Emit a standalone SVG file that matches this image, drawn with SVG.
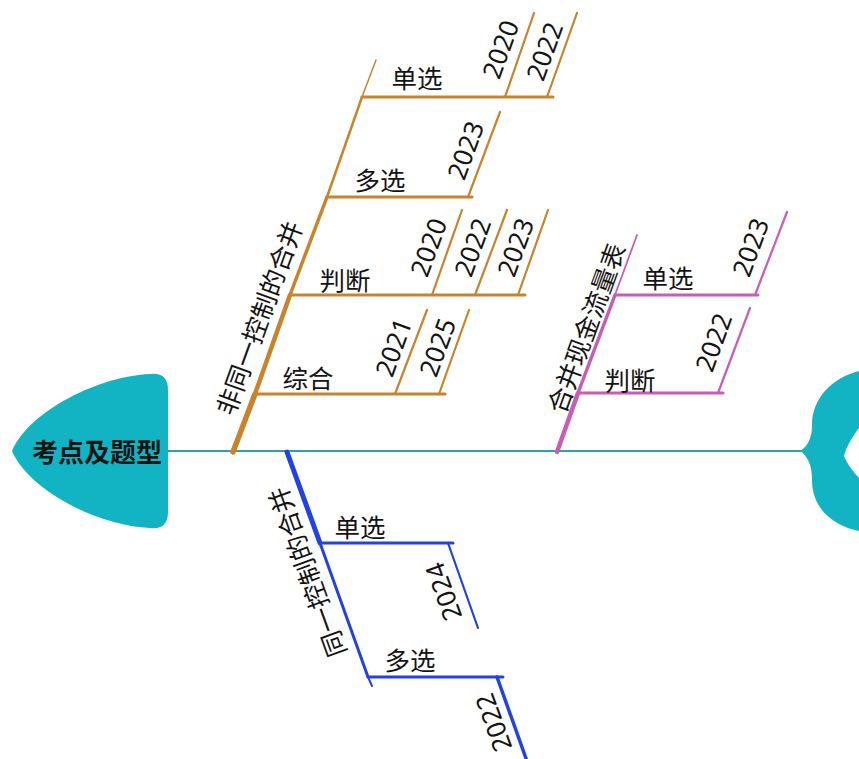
<svg xmlns="http://www.w3.org/2000/svg" width="859" height="759" viewBox="0 0 859 759">
<style>
text{font-family:"Noto Sans","Noto Sans CJK SC",sans-serif;fill:#141414;text-anchor:middle;dominant-baseline:central}
.lbl{font-size:25.5px}
.yr{font-size:26px}
.head{font-size:26px;font-weight:bold}
line{stroke-linecap:round;fill:none}
.o{stroke:#c8842c}
.p{stroke:#c85db5}
.b{stroke:#2342e4}
.fill{fill:#12b4c3}
</style>
<rect width="859" height="759" fill="#ffffff"/>
<g id="connectors">
  <line x1="166" y1="451" x2="802" y2="451" stroke="#2f9fb2" stroke-width="2"/>
  <line class="o" x1="233" y1="452" x2="255" y2="394" stroke-width="5.5"/>
  <line class="o" x1="255" y1="394" x2="290" y2="295" stroke-width="4.5"/>
  <line class="o" x1="290" y1="295" x2="327" y2="197" stroke-width="3.5"/>
  <line class="o" x1="327" y1="197" x2="362" y2="97" stroke-width="2.5"/>
  <line class="o" x1="362" y1="97" x2="376" y2="60" stroke-width="1.5"/>
  <line class="o" x1="362" y1="97" x2="553" y2="97" stroke-width="3"/>
  <line class="o" x1="505" y1="97" x2="534" y2="13" stroke-width="2.2"/>
  <line class="o" x1="547" y1="97" x2="577" y2="13" stroke-width="2.2"/>
  <line class="o" x1="327" y1="197" x2="472" y2="197" stroke-width="3.2"/>
  <line class="o" x1="468" y1="197" x2="500" y2="112" stroke-width="2.2"/>
  <line class="o" x1="290" y1="295" x2="525" y2="295" stroke-width="2.8"/>
  <line class="o" x1="432" y1="295" x2="462" y2="210" stroke-width="2.2"/>
  <line class="o" x1="475" y1="295" x2="507" y2="210" stroke-width="2.2"/>
  <line class="o" x1="518" y1="295" x2="548" y2="210" stroke-width="2.2"/>
  <line class="o" x1="255" y1="394" x2="445" y2="394" stroke-width="3"/>
  <line class="o" x1="395" y1="394" x2="427" y2="310" stroke-width="2.2"/>
  <line class="o" x1="439" y1="394" x2="469" y2="310" stroke-width="2.2"/>
  <line class="p" x1="557" y1="452" x2="578" y2="393" stroke-width="4.5"/>
  <line class="p" x1="578" y1="393" x2="615" y2="295" stroke-width="3.5"/>
  <line class="p" x1="615" y1="295" x2="637" y2="235" stroke-width="1.8"/>
  <line class="p" x1="615" y1="295" x2="758" y2="295" stroke-width="3"/>
  <line class="p" x1="755" y1="295" x2="787" y2="212" stroke-width="2.2"/>
  <line class="p" x1="578" y1="393" x2="723" y2="393" stroke-width="3"/>
  <line class="p" x1="718" y1="393" x2="750" y2="308" stroke-width="2.2"/>
  <line class="b" x1="287" y1="452" x2="320" y2="543" stroke-width="5"/>
  <line class="b" x1="320" y1="543" x2="368" y2="677" stroke-width="3"/>
  <line class="b" x1="368" y1="677" x2="372" y2="686" stroke-width="2"/>
  <line class="b" x1="320" y1="543" x2="453" y2="543" stroke-width="3"/>
  <line class="b" x1="448" y1="543" x2="478" y2="628" stroke-width="2.2"/>
  <line class="b" x1="368" y1="677" x2="503" y2="677" stroke-width="3"/>
  <line class="b" x1="497" y1="677" x2="528" y2="764" stroke-width="3.5"/>
</g>
<g id="head">
  <path class="fill" d="M150,374 C100,376 30,410 12,451 C30,492 100,526 150,528 Q168,530 168,512 L168,390 Q168,372 150,374 Z"/>
  <text class="head" x="97" y="452">考点及题型</text>
</g>
<g id="tail">
  <path class="fill" d="M800,451 C808,446 812,438 812,425 C812,398 832,378 859,371 L859,428 C853,436 847,445 844,456 C848,466 854,472 859,478 L859,531 C838,527 812,512 812,480 C812,466 808,456 800,451 Z"/>
</g>
<g id="branch-fei">
  <text class="lbl" transform="translate(259,318) rotate(-70)">非同一控制的合并</text>
</g>
<g id="fei-danxuan">
  <text class="lbl" x="417" y="78">单选</text>
  <text class="yr" transform="translate(500,49) rotate(-70)">2020</text>
  <text class="yr" transform="translate(544,51) rotate(-70)">2022</text>
</g>
<g id="fei-duoxuan">
  <text class="lbl" x="380" y="180">多选</text>
  <text class="yr" transform="translate(465,150) rotate(-70)">2023</text>
</g>
<g id="fei-panduan">
  <text class="lbl" x="345" y="280">判断</text>
  <text class="yr" transform="translate(428,247) rotate(-70)">2020</text>
  <text class="yr" transform="translate(472,247) rotate(-70)">2022</text>
  <text class="yr" transform="translate(515,247) rotate(-70)">2023</text>
</g>
<g id="fei-zonghe">
  <text class="lbl" x="308" y="378">综合</text>
  <text class="yr" transform="translate(393,347) rotate(-70)">2021</text>
  <text class="yr" transform="translate(437,347) rotate(-70)">2025</text>
</g>
<g id="branch-xianjin">
  <text class="lbl" transform="translate(586,328) rotate(-70)">合并现金流量表</text>
</g>
<g id="xj-danxuan">
  <text class="lbl" x="668" y="278">单选</text>
  <text class="yr" transform="translate(750,247) rotate(-70)">2023</text>
</g>
<g id="xj-panduan">
  <text class="lbl" x="630" y="380">判断</text>
  <text class="yr" transform="translate(713,342) rotate(-70)">2022</text>
</g>
<g id="branch-tong">
  <text class="lbl" transform="translate(307,572) rotate(-110)">同一控制的合并</text>
</g>
<g id="tong-danxuan">
  <text class="lbl" x="360" y="527">单选</text>
  <text class="yr" transform="translate(443,592) rotate(-110)">2024</text>
</g>
<g id="tong-duoxuan">
  <text class="lbl" x="410" y="660">多选</text>
  <text class="yr" transform="translate(493,723) rotate(-110)">2022</text>
</g>
</svg>
